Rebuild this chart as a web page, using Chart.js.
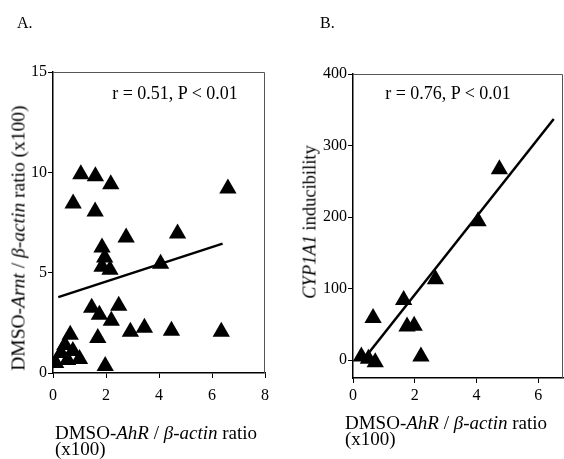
<!DOCTYPE html>
<html>
<head>
<meta charset="utf-8">
<script src="https://cdn.jsdelivr.net/npm/chart.js@4.4.1/dist/chart.umd.min.js"></script>
<style>
    body { margin: 0; background: #fff; }
    #page { position: relative; width: 564px; height: 459px; font-family: "Liberation Serif", serif; color: #000; overflow: hidden; }
    canvas { position: absolute; top: 0; }
    .lbl { position: absolute; white-space: nowrap; font-size: 19px; line-height: 17px; }
    .mid { transform: translate(-50%, -50%); }
    .rot { transform: translate(-50%, -50%) rotate(-90deg); }
</style>
</head>
<body>
<div id="page">
    <canvas id="chart-a" width="282" height="459" style="left:0"></canvas>
    <canvas id="chart-b" width="282" height="459" style="left:282px"></canvas>

    <div class="lbl" style="left:17px; top:14px; font-size:16px;">A.</div>
    <div class="lbl" style="left:320px; top:14px; font-size:16px;">B.</div>

    <div class="lbl mid" style="left:175px; top:93px; font-size:18px;">r = 0.51, P &lt; 0.01</div>
    <div class="lbl mid" style="left:448px; top:93px; font-size:18px;">r = 0.76, P &lt; 0.01</div>

    <div class="lbl rot" style="left:18px; top:238px; font-size:19.5px;">DMSO-<i>Arnt</i> / <i>β-actin</i> ratio (x100)</div>
    <div class="lbl rot" style="left:310px; top:222px; font-size:18.5px;"><i>CYP1A1</i> inducibility</div>

    <div class="lbl" style="left:55px; top:424px;">DMSO-<i>AhR</i> / <i>β-actin</i> ratio</div>
    <div class="lbl" style="left:55px; top:440px;">(x100)</div>
    <div class="lbl" style="left:345px; top:414px;">DMSO-<i>AhR</i> / <i>β-actin</i> ratio</div>
    <div class="lbl" style="left:345px; top:430px;">(x100)</div>
</div>

<script>
// Panel A: AhR vs Arnt
const ahrA = [1.05, 1.6, 2.18, 6.6, 0.76, 1.59, 2.76, 4.7, 1.85, 1.95, 1.85, 2.15, 4.06,
    1.46, 2.48, 1.75, 2.2, 2.92, 3.45, 4.47, 6.35, 1.69, 1.97,
    0.65, 0.45, 0.3, 0.1, 0.75, 1.0, 0.55];
const arntA = [9.9, 9.8, 9.4, 9.2, 8.45, 8.05, 6.75, 6.95, 6.25, 5.75, 5.3, 5.15, 5.45,
    3.25, 3.35, 2.9, 2.6, 2.05, 2.25, 2.1, 2.05, 1.75, 0.35,
    1.9, 1.4, 1.0, 0.5, 1.1, 0.7, 0.65];
const fitXA = [0.2, 6.4];
const fitYA = [3.78, 6.45];
const xTicksA = [0, 2, 4, 6, 8];
const yTicksA = [0, 5, 10, 15];

// Panel B: AhR vs CYP1A1 inducibility
const ahrB = [4.74, 4.05, 2.67, 1.64, 0.65, 1.75, 1.98, 2.2, 0.27, 0.5, 0.72];
const cypB = [267, 194, 113, 84, 59, 47, 48, 5, 5, 2, -3];
const fitXB = [0.5, 6.5];
const fitYB = [9.5, 337];
const xTicksB = [0, 2, 4, 6];
const yTicksB = [0, 100, 200, 300, 400];

const tickFont = { family: "Liberation Serif", size: 16 };

// draws the top and right edges of the plot box
const framePlugin = {
    id: "frame",
    afterDraw(chart) {
        const { ctx, chartArea: a } = chart;
        ctx.save();
        ctx.strokeStyle = "#555";
        ctx.lineWidth = 1;
        ctx.beginPath();
        ctx.moveTo(a.left, a.top + 0.5);
        ctx.lineTo(a.right - 0.5, a.top + 0.5);
        ctx.lineTo(a.right - 0.5, a.bottom);
        ctx.stroke();
        ctx.restore();
    }
};

function toPoints(xs, ys) {
    return xs.map((x, i) => ({ x: x, y: ys[i] }));
}

function axis(min, max, ticks, fitSize, pad, horizontal) {
    return {
        type: "linear",
        min: min,
        max: max,
        afterBuildTicks: (scale) => { scale.ticks = ticks.map(v => ({ value: v })); },
        afterFit: (scale) => {
            if (horizontal) scale.height = fitSize; else scale.width = fitSize;
            // keep the plot box where it is in the picture
            scale.paddingLeft = 0;
            scale.paddingRight = 0;
            scale.paddingTop = 0;
            scale.paddingBottom = 0;
        },
        border: { display: true, color: "#000", width: 1.5 },
        grid: { display: true, drawOnChartArea: false, drawTicks: true, tickLength: 5, color: "#000" },
        ticks: { color: "#000", font: tickFont, padding: pad, maxRotation: 0 }
    };
}

function createScatter(id, xs, ys, fx, fy, xScale, yScale, padding) {
    const ctx = document.getElementById(id).getContext("2d");
    new Chart(ctx, {
        type: "scatter",
        data: {
            datasets: [
                {
                    data: toPoints(xs, ys),
                    pointStyle: "triangle",
                    pointRadius: 10,
                    backgroundColor: "#000",
                    borderColor: "#000",
                    borderWidth: 0
                },
                {
                    type: "line",
                    data: toPoints(fx, fy),
                    borderColor: "#000",
                    borderWidth: 2.5,
                    pointRadius: 0,
                    fill: false
                }
            ]
        },
        options: {
            responsive: false,
            animation: false,
            layout: { padding: padding, autoPadding: false },
            plugins: { legend: { display: false }, tooltip: { enabled: false } },
            scales: { x: xScale, y: yScale }
        },
        plugins: [framePlugin]
    });
}

createScatter("chart-a", ahrA, arntA, fitXA, fitYA,
    axis(0, 8, xTicksA, 86, 8, true),
    axis(0, 15, yTicksA, 53, 1, false),
    { left: 0, top: 72, right: 17, bottom: 0 });

createScatter("chart-b", ahrB, cypB, fitXB, fitYB,
    axis(0, 6.8, xTicksB, 81, 3, true),
    axis(-25, 400, yTicksB, 71, 1, false),
    { left: 0, top: 74, right: 1, bottom: 0 });
</script>
</body>
</html>
